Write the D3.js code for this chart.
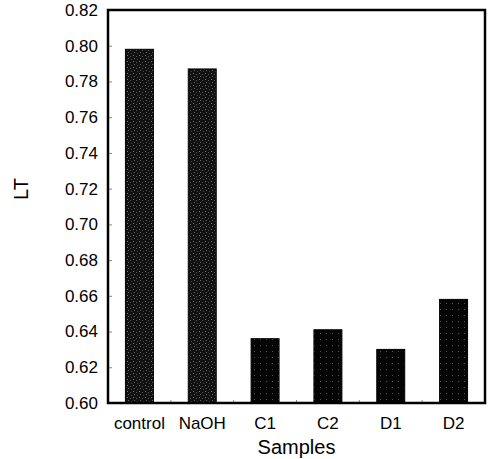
<!DOCTYPE html>
<html>
<head>
<meta charset="utf-8">
<script src="https://cdn.jsdelivr.net/npm/d3@7"></script>
<style>
  html, body { margin: 0; padding: 0; background: #fff; }
  svg { display: block; font-family: "Liberation Sans", Arial, sans-serif; }
</style>
</head>
<body>
<svg id="chart" width="488" height="459"></svg>
<script>
// LT value for each sample
const categories = ["control", "NaOH", "C1", "C2", "D1", "D2"];
const ltValues = [0.798, 0.787, 0.636, 0.641, 0.630, 0.658];
const yTicks = [0.60, 0.62, 0.64, 0.66, 0.68, 0.70, 0.72, 0.74, 0.76, 0.78, 0.80, 0.82];

const W = 488, H = 459;
const margin = { left: 108, right: 3, top: 10, bottom: 56 };
const svg = d3.select("#chart");

const x = d3.scaleBand()
  .domain(categories)
  .range([margin.left, W - margin.right])
  .paddingInner(0.555)
  .paddingOuter(0.2775);

const y = d3.scaleLinear()
  .domain([0.60, 0.82])
  .range([H - margin.bottom, margin.top]);

// stippled fills for the bars
const defs = svg.append("defs");
function stipple(id, base, dots) {
  const p = defs.append("pattern")
    .attr("id", id).attr("patternUnits", "userSpaceOnUse")
    .attr("width", 6).attr("height", 6);
  p.append("rect").attr("width", 6).attr("height", 6).attr("fill", base);
  dots.forEach(([dx, dy, c]) => p.append("rect")
    .attr("x", dx).attr("y", dy).attr("width", 1).attr("height", 1).attr("fill", c));
}
stipple("dense", "#111", [[1, 1, "#777"], [4, 2, "#555"], [2, 4, "#666"], [5, 5, "#444"]]);
stipple("sparse", "#050505", [[2, 3, "#555"]]);

// bars
svg.append("g").selectAll("rect")
  .data(categories)
  .join("rect")
  .attr("x", d => x(d))
  .attr("width", x.bandwidth())
  .attr("y", (d, i) => y(ltValues[i]))
  .attr("height", (d, i) => y(0.60) - y(ltValues[i]))
  .attr("fill", (d, i) => i < 2 ? "url(#dense)" : "url(#sparse)")
  .attr("stroke", "#000")
  .attr("stroke-width", 1);

// y axis: labels with short inward ticks
const yAxis = d3.axisLeft(y)
  .tickValues(yTicks)
  .tickFormat(d3.format(".2f"))
  .tickSizeInner(-4)
  .tickSizeOuter(0)
  .tickPadding(10);
const gy = svg.append("g")
  .attr("transform", `translate(${margin.left},0)`)
  .call(yAxis);
gy.select(".domain").remove();
gy.selectAll(".tick line").attr("stroke", "#888").attr("stroke-width", 1);
gy.selectAll(".tick text")
  .attr("font-size", 17).attr("fill", "#000")
  .attr("font-family", "Liberation Sans, Arial, sans-serif");

// x axis: category labels, small ticks between groups
const xAxis = d3.axisBottom(x).tickSize(0).tickPadding(14);
const gx = svg.append("g")
  .attr("transform", `translate(0,${H - margin.bottom})`)
  .call(xAxis);
gx.select(".domain").remove();
gx.selectAll(".tick text")
  .attr("font-size", 17).attr("fill", "#000")
  .attr("font-family", "Liberation Sans, Arial, sans-serif");

const step = x.step();
const bounds = categories.slice(1).map(c => x(c) - step * x.paddingInner() / 2);
svg.append("g").selectAll("line")
  .data(bounds)
  .join("line")
  .attr("x1", d => d).attr("x2", d => d)
  .attr("y1", y(0.60)).attr("y2", y(0.60) - 3)
  .attr("stroke", "#888").attr("stroke-width", 1);

// plot frame
svg.append("rect")
  .attr("x", margin.left).attr("y", margin.top)
  .attr("width", W - margin.left - margin.right)
  .attr("height", H - margin.top - margin.bottom)
  .attr("fill", "none").attr("stroke", "#000").attr("stroke-width", 2.5);

// axis titles
svg.append("text")
  .attr("x", (margin.left + W - margin.right) / 2)
  .attr("y", 454)
  .attr("text-anchor", "middle")
  .attr("font-size", 20)
  .text("Samples");

svg.append("text")
  .attr("transform", "translate(28,189) rotate(-90)")
  .attr("text-anchor", "middle")
  .attr("font-size", 20)
  .text("LT");
</script>
</body>
</html>
